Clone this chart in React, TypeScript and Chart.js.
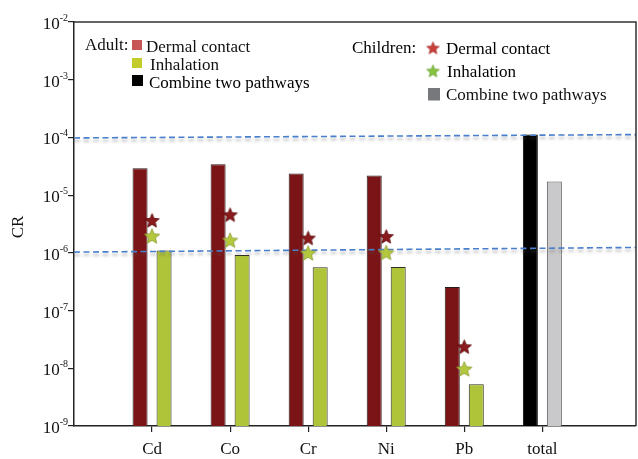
import React, { useEffect, useRef } from 'react';
import { Chart, registerables } from 'chart.js';

Chart.register(...registerables);

// ---- data ----
const categories = ['Cd', 'Co', 'Cr', 'Ni', 'Pb', 'total'];
const adultDermal = [2.91e-5, 3.44e-5, 2.38e-5, 2.2e-5, 2.57e-7];
const adultInhalation = [1.1e-6, 9.2e-7, 5.65e-7, 5.7e-7, 5.3e-9];
const adultCombinedTotal = 1.12e-4;
const childrenCombinedTotal = 1.73e-5;
const childrenDermal = [3.64e-6, 4.57e-6, 1.8e-6, 1.92e-6, 2.36e-8];
const childrenInhalation = [1.95e-6, 1.65e-6, 9.9e-7, 1.01e-6, 9.7e-9];
// threshold reference lines as drawn (left end, right end)
const thresholdUpper = [9.8e-5, 1.12e-4];
const thresholdLower = [1.03e-6, 1.24e-6];
const yTickExponents = [-9, -8, -7, -6, -5, -4, -3, -2];

const FONT = '"Liberation Serif", "Times New Roman", serif';

function makeStar(fill: string, stroke: string, r: number): HTMLCanvasElement {
  const s = Math.ceil(r * 2 + 2);
  const c = document.createElement('canvas');
  c.width = s;
  c.height = s;
  const ctx = c.getContext('2d')!;
  const cx = s / 2;
  const cy = s / 2 + r * 0.08;
  const inner = r * 0.45;
  ctx.beginPath();
  for (let i = 0; i < 10; i++) {
    const rad = i % 2 === 0 ? r : inner;
    const a = -Math.PI / 2 + (i * Math.PI) / 5;
    const x = cx + rad * Math.cos(a);
    const y = cy + rad * Math.sin(a);
    if (i === 0) ctx.moveTo(x, y);
    else ctx.lineTo(x, y);
  }
  ctx.closePath();
  ctx.fillStyle = fill;
  ctx.fill();
  ctx.lineWidth = 0.8;
  ctx.strokeStyle = stroke;
  ctx.stroke();
  return c;
}

export default function App() {
  const ref = useRef<HTMLCanvasElement | null>(null);

  useEffect(() => {
    if (!ref.current) return;
    const redStar = makeStar('#8a1a1c', '#5a0c0e', 7.5);
    const greenStar = makeStar('#b4c83e', '#8a9a30', 8);
    const legRedStar = makeStar('#c8403c', '#a83030', 6.5);
    const legGreenStar = makeStar('#86c440', '#6aa030', 6.5);

    const idx = categories.map((_, i) => i);
    const redCol = '#7b1416';
    const greenCol = '#b0c43a';

    const barA = idx.map((i) => ({ x: i, y: i < 5 ? adultDermal[i] : adultCombinedTotal }));
    const barB = idx.map((i) => ({ x: i, y: i < 5 ? adultInhalation[i] : childrenCombinedTotal }));

    const overlay = {
      id: 'overlay',
      beforeDatasetDraw(chart: any, args: any) {
        const ds = chart.data.datasets[args.index];
        if (ds.label && ds.label.startsWith('threshold')) {
          const ctx = chart.ctx;
          ctx.save();
          ctx.shadowColor = 'rgba(90,90,90,0.45)';
          ctx.shadowBlur = 3;
          ctx.shadowOffsetY = 3;
        }
      },
      afterDatasetDraw(chart: any, args: any) {
        const ds = chart.data.datasets[args.index];
        if (ds.label && ds.label.startsWith('threshold')) {
          chart.ctx.restore();
        }
      },
      afterDraw(chart: any) {
        const ctx = chart.ctx;
        const { left, right, top, bottom } = chart.chartArea;
        const ys = chart.scales.y;
        ctx.save();
        // frame top and right
        ctx.strokeStyle = '#333';
        ctx.lineWidth = 1.5;
        ctx.beginPath();
        ctx.moveTo(left, top);
        ctx.lineTo(right, top);
        ctx.lineTo(right, bottom);
        ctx.stroke();

        // y tick labels 10^n
        ctx.fillStyle = '#111';
        ctx.textBaseline = 'alphabetic';
        yTickExponents.forEach((e) => {
          const py = ys.getPixelForValue(Math.pow(10, e));
          const exp = String(e);
          ctx.font = `10px ${FONT}`;
          ctx.textAlign = 'right';
          const ew = ctx.measureText(exp).width;
          ctx.fillText(exp, 68, py - 1);
          ctx.font = `17px ${FONT}`;
          ctx.fillText('10', 68 - ew, py + 7);
        });

        // y axis title
        ctx.save();
        ctx.translate(19, 227);
        ctx.rotate(-Math.PI / 2);
        ctx.font = `17px ${FONT}`;
        ctx.textAlign = 'center';
        ctx.textBaseline = 'middle';
        ctx.fillText('CR', 0, 0);
        ctx.restore();

        // legend - adult
        ctx.font = `17px ${FONT}`;
        ctx.textAlign = 'left';
        ctx.textBaseline = 'alphabetic';
        ctx.fillStyle = '#111';
        ctx.fillText('Adult:', 85, 50);
        ctx.fillStyle = '#c85555';
        ctx.fillRect(132, 40, 10, 10);
        ctx.fillStyle = '#111';
        ctx.fillText('Dermal contact', 146, 52);
        ctx.fillStyle = '#c4cc2c';
        ctx.fillRect(132, 58, 10, 10);
        ctx.fillStyle = '#111';
        ctx.fillText('Inhalation', 150, 70);
        ctx.fillStyle = '#000';
        ctx.fillRect(132, 75, 11, 11);
        ctx.fillText('Combine two pathways', 149, 88);

        // legend - children
        ctx.fillText('Children:', 352, 53);
        ctx.drawImage(legRedStar, 433 - legRedStar.width / 2, 48 - legRedStar.height / 2);
        ctx.fillText('Dermal contact', 446, 54);
        ctx.drawImage(legGreenStar, 433 - legGreenStar.width / 2, 71 - legGreenStar.height / 2);
        ctx.fillText('Inhalation', 447, 77);
        ctx.fillStyle = '#77787b';
        ctx.fillRect(428, 88, 12, 12.5);
        ctx.fillStyle = '#111';
        ctx.fillText('Combine two pathways', 446, 100);
        ctx.restore();
      },
    };

    const chart = new Chart(ref.current, {
      type: 'bar',
      data: {
        datasets: [
          {
            type: 'scatter' as any,
            label: 'Children dermal contact',
            data: childrenDermal.map((v, i) => ({ x: i, y: v })),
            pointStyle: redStar as any,
            order: 0,
          } as any,
          {
            type: 'scatter' as any,
            label: 'Children inhalation',
            data: childrenInhalation.map((v, i) => ({ x: i, y: v })),
            pointStyle: greenStar as any,
            order: 0,
          } as any,
          {
            type: 'line' as any,
            label: 'threshold upper',
            data: [
              { x: -1, y: thresholdUpper[0] },
              { x: 6.2, y: thresholdUpper[1] },
            ],
            borderColor: '#4a7fcc',
            borderWidth: 1.6,
            borderDash: [6, 3.5],
            pointRadius: 0,
            fill: false,
            order: 1,
          } as any,
          {
            type: 'line' as any,
            label: 'threshold lower',
            data: [
              { x: -1, y: thresholdLower[0] },
              { x: 6.2, y: thresholdLower[1] },
            ],
            borderColor: '#4a7fcc',
            borderWidth: 1.6,
            borderDash: [6, 3.5],
            pointRadius: 0,
            fill: false,
            order: 1,
          } as any,
          {
            label: 'Adult dermal contact / Adult combined',
            data: barA,
            backgroundColor: idx.map((i) => (i < 5 ? redCol : '#000')),
            borderColor: idx.map((i) => (i < 5 ? '#2a1a1a' : '#000')),
            borderWidth: 1,
            categoryPercentage: 0.615,
            barPercentage: 0.625,
            order: 2,
          } as any,
          {
            label: 'Adult inhalation / Children combined',
            data: barB,
            backgroundColor: idx.map((i) => (i < 5 ? greenCol : '#c9c9cb')),
            borderColor: idx.map((i) => (i < 5 ? '#2f2f22' : '#555')),
            borderWidth: 1,
            categoryPercentage: 0.615,
            barPercentage: 0.625,
            order: 2,
          } as any,
        ],
      },
      options: {
        animation: false,
        responsive: false,
        devicePixelRatio: 1,
        layout: { autoPadding: false, padding: { top: 22, right: 2, left: 0, bottom: 0 } },
        plugins: {
          legend: { display: false },
          tooltip: { enabled: false },
        },
        scales: {
          x: {
            type: 'linear',
            min: -1,
            max: 6.2,
            offset: false,
            afterBuildTicks: (scale: any) => {
              scale.ticks = idx.map((v) => ({ value: v }));
            },
            afterFit: (scale: any) => {
              scale.height = 33;
            },
            grid: {
              offset: false,
              drawOnChartArea: false,
              drawTicks: true,
              tickLength: 6,
              color: '#222',
              lineWidth: 1.2,
            },
            border: { display: true, color: '#222', width: 1.5 },
            ticks: {
              autoSkip: false,
              maxRotation: 0,
              padding: 7,
              color: '#111',
              font: { family: FONT, size: 17 },
              callback: (v: any) => categories[Math.round(Number(v))] ?? '',
            },
          },
          y: {
            type: 'logarithmic',
            min: 1e-9,
            max: 1e-2,
            afterBuildTicks: (scale: any) => {
              scale.ticks = yTickExponents.map((e) => ({ value: Math.pow(10, e) }));
            },
            afterFit: (scale: any) => {
              scale.width = 74;
            },
            grid: {
              drawOnChartArea: false,
              drawTicks: true,
              tickLength: 6,
              color: '#222',
              lineWidth: 1.2,
            },
            border: { display: true, color: '#222', width: 1.5 },
            ticks: { display: false },
          },
        },
      } as any,
      plugins: [overlay],
    });

    return () => chart.destroy();
  }, []);

  return (
    <div style={{ position: 'absolute', left: 0, top: 0, width: 638, height: 459, background: '#fff' }}>
      <canvas ref={ref} width={638} height={459} style={{ display: 'block', width: 638, height: 459 }} />
    </div>
  );
}
